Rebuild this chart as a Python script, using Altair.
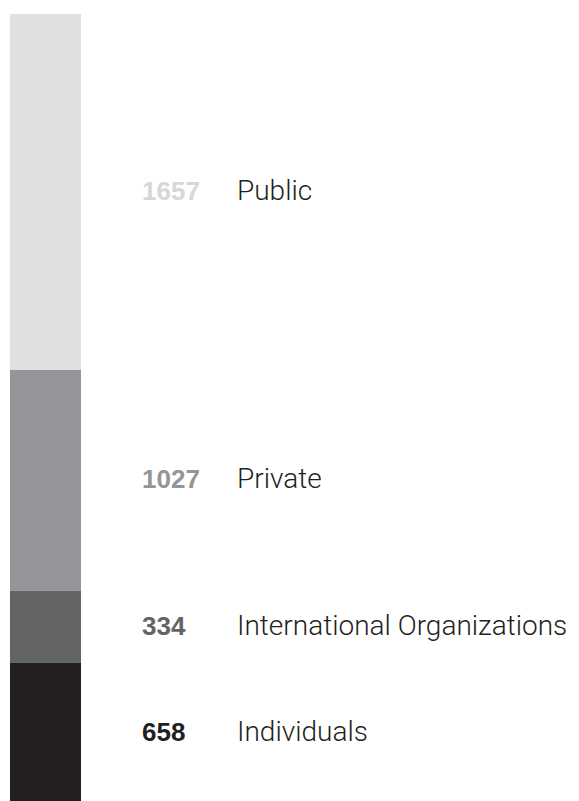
import altair as alt
import pandas as pd

categories = ["Public", "Private", "International Organizations", "Individuals"]
values = [1657, 1027, 334, 658]
bar_colors = ["#dfe0e2", "#939598", "#636466", "#231f20"]
number_colors = ["#d6d7d9", "#939598", "#636466", "#231f20"]

df = pd.DataFrame({
    "category": categories,
    "value": values,
    "order": list(range(len(categories))),
    "bar_color": bar_colors,
    "num_color": number_colors,
})

total = sum(values)
yscale = alt.Scale(domain=[0, total], reverse=True, nice=False, zero=True)

base = alt.Chart(df).transform_stack(
    stack="value", as_=["y0", "y1"], groupby=[],
    sort=[alt.SortField(field="order", order="ascending")]
).transform_calculate(mid="(datum.y0 + datum.y1) / 2")

bars = base.mark_bar().encode(
    y=alt.Y("y0:Q", scale=yscale, axis=None),
    y2="y1:Q",
    x=alt.value(0),
    x2=alt.value(71),
    color=alt.Color("bar_color:N", scale=None),
)

nums = base.mark_text(
    align="left", baseline="middle", font="Liberation Sans",
    fontWeight="bold", fontSize=26
).encode(
    y=alt.Y("mid:Q", scale=yscale, axis=None),
    x=alt.value(132),
    text="value:Q",
    color=alt.Color("num_color:N", scale=None),
)

labels = base.mark_text(
    align="left", baseline="middle", font="Roboto",
    fontWeight=300, fontSize=28, color="#231f20"
).encode(
    y=alt.Y("mid:Q", scale=yscale, axis=None),
    x=alt.value(227),
    text="category:N",
)

chart = alt.layer(bars, nums, labels).properties(
    width=561, height=790,
    padding={"left": 2, "top": 6, "right": 0, "bottom": 0},
    autosize=alt.AutoSizeParams(type="none"),
).configure_view(stroke=None)

chart.save("out.html", embed_options={"renderer": "svg", "actions": False})
